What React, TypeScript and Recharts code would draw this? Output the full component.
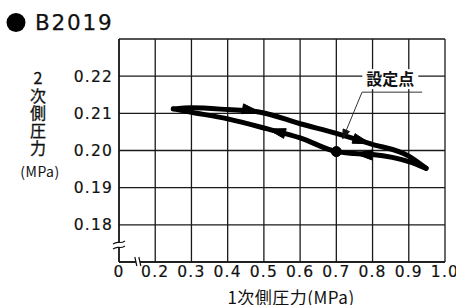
import React from 'react';
import { ComposedChart, Line, XAxis, YAxis, CartesianGrid, ReferenceDot } from 'recharts';

// Axis ticks (0.1 position is the broken-axis origin, labelled "0")
const xTicks = [0.1, 0.2, 0.3, 0.4, 0.5, 0.6, 0.7, 0.8, 0.9, 1.0];
const yTicks = [0.17, 0.18, 0.19, 0.2, 0.21, 0.22, 0.23];

// Rising inlet pressure branch (upper curve)
const risingInlet = [0.25, 0.3, 0.4, 0.49, 0.6, 0.7, 0.795, 0.9, 0.948];
const risingOutlet = [0.2112, 0.2115, 0.211, 0.2103, 0.2072, 0.2046, 0.2018, 0.1985, 0.1952];
const risingArrowsAt = [0.49, 0.795];

// Falling inlet pressure branch (lower curve)
const fallingInlet = [0.25, 0.3, 0.4, 0.51, 0.6, 0.7, 0.75, 0.8, 0.9, 0.948];
const fallingOutlet = [0.2112, 0.2103, 0.2085, 0.2058, 0.2034, 0.1997, 0.1992, 0.1989, 0.197, 0.1952];
const fallingArrowsAt = [0.51, 0.75];

// Set point and its leader
const setPoint = { x: 0.7, y: 0.1997 };
const leaderX = [0.718, 0.771, 0.937];
const leaderY = [0.2032, 0.2157, 0.2157];
const setPointLabel = '設定点';
const labelPos = { x: 0.849, y: 0.2192 };

const rising = risingInlet.map((x, i) => ({ x, y: risingOutlet[i] }));
const falling = fallingInlet.map((x, i) => ({ x, y: fallingOutlet[i] }));
const leader = leaderX.map((x, i) => ({ x, y: leaderY[i] }));

const INK = '#111';
const TICK_FONT = 'DejaVu Sans, sans-serif';
const JP_FONT = '"Noto Sans CJK JP", sans-serif';

const makeArrowDot = (arrowXs: number[], dir: number, len: number, half: number, fill: string) =>
  (props: any) => {
    const { cx, cy, index, points, payload } = props;
    if (!payload || !arrowXs.includes(payload.x) || !points || cx == null) {
      return <g key={`n-${index}`} />;
    }
    const p0 = points[Math.max(0, index - 1)];
    const p1 = points[Math.min(points.length - 1, index + 1)];
    let dx = (p1.x - p0.x) * dir;
    let dy = (p1.y - p0.y) * dir;
    const n = Math.hypot(dx, dy) || 1;
    dx /= n; dy /= n;
    const bx = cx - dx * len;
    const by = cy - dy * len;
    const px = -dy * half;
    const py = dx * half;
    const pts = `${cx},${cy} ${bx + px},${by + py} ${bx - px},${by - py}`;
    return <polygon key={`a-${index}`} points={pts} fill={fill} stroke={fill} strokeWidth={1} strokeLinejoin="round" />;
  };

const LabelShape = (props: any) => {
  const { cx, cy } = props;
  return (
    <g>
      <rect x={cx - 28} y={cy - 10} width={56} height={20} fill="#fff" />
      <text x={cx} y={cy + 6} textAnchor="middle" fontSize={16} fontWeight="bold" fontFamily={JP_FONT} fill={INK}>
        {setPointLabel}
      </text>
    </g>
  );
};

const YBreak = (props: any) => {
  const { cx, cy } = props;
  return (
    <g>
      <polygon points={`${cx - 6},${cy - 1} ${cx + 6},${cy - 4} ${cx + 6},${cy + 1} ${cx - 6},${cy + 4}`} fill="#fff" />
      <path d={`M${cx - 6},${cy - 1} q3,-2 6,-1.5 t6,-1.5`} stroke={INK} strokeWidth={1.2} fill="none" />
      <path d={`M${cx - 6},${cy + 4} q3,-2 6,-1.5 t6,-1.5`} stroke={INK} strokeWidth={1.2} fill="none" />
    </g>
  );
};

const XBreak = (props: any) => {
  const { cx, cy } = props;
  return (
    <g>
      <polygon points={`${cx - 3},${cy - 5} ${cx + 1},${cy - 5} ${cx + 3},${cy + 4} ${cx - 1},${cy + 4}`} fill="#fff" />
      <path d={`M${cx - 3},${cy - 5} L${cx - 1},${cy + 4}`} stroke={INK} strokeWidth={1.2} />
      <path d={`M${cx + 1},${cy - 5} L${cx + 3},${cy + 4}`} stroke={INK} strokeWidth={1.2} />
    </g>
  );
};

const yTitleChars = ['2', '次', '側', '圧', '力'];

const tickStyle = { fill: INK, fontSize: 15.5, fontFamily: TICK_FONT, letterSpacing: 1.2, stroke: INK, strokeWidth: 0.2 };

export default function App() {
  return (
    <div style={{ position: 'absolute', left: 0, top: 0, width: 456, height: 305, background: '#fff', overflow: 'hidden' }}>
      <ComposedChart width={456} height={305} margin={{ top: 39, right: 11, bottom: 0, left: 0 }}>
        <CartesianGrid stroke="#1a1a1a" strokeWidth={1.3} />
        <XAxis
          type="number"
          dataKey="x"
          domain={[0.1, 1.0]}
          ticks={xTicks}
          allowDataOverflow
          height={43}
          tickLine={false}
          tickSize={3}
          tickMargin={1}
          axisLine={{ stroke: INK, strokeWidth: 1.4 }}
          tickFormatter={(v: number) => (v < 0.15 ? '0' : v.toFixed(1))}
          tick={tickStyle}
          interval={0}
        />
        <YAxis
          type="number"
          dataKey="y"
          domain={[0.17, 0.23]}
          ticks={yTicks}
          allowDataOverflow
          width={119}
          tickLine={false}
          tickSize={4}
          tickMargin={2}
          axisLine={{ stroke: INK, strokeWidth: 1.4 }}
          tickFormatter={(v: number) => (v < 0.175 || v > 0.225 ? '' : v.toFixed(2))}
          tick={tickStyle}
          interval={0}
        />
        <Line
          data={rising}
          dataKey="y"
          type="monotone"
          stroke="#000"
          strokeWidth={5}
          strokeLinecap="round"
          strokeLinejoin="round"
          dot={makeArrowDot(risingArrowsAt, 1, 18, 5, '#000')}
          activeDot={false}
          isAnimationActive={false}
        />
        <Line
          data={falling}
          dataKey="y"
          type="monotone"
          stroke="#000"
          strokeWidth={5}
          strokeLinecap="round"
          strokeLinejoin="round"
          dot={makeArrowDot(fallingArrowsAt, -1, 18, 5, '#000')}
          activeDot={false}
          isAnimationActive={false}
        />
        <Line
          data={leader}
          dataKey="y"
          type="linear"
          stroke="#333"
          strokeWidth={1}
          dot={makeArrowDot([leaderX[0]], -1, 9, 3.5, '#111')}
          activeDot={false}
          isAnimationActive={false}
        />
        <ReferenceDot x={setPoint.x} y={setPoint.y} r={5} fill="#000" stroke="#000" />
        <ReferenceDot x={labelPos.x} y={labelPos.y} r={1} shape={LabelShape} />
        <ReferenceDot x={0.1} y={0.1746} r={1} shape={YBreak} />
        <ReferenceDot x={0.152} y={0.17} r={1} shape={XBreak} />
      </ComposedChart>
      <svg width={456} height={305} style={{ position: 'absolute', left: 0, top: 0, pointerEvents: 'none' }}>
        <circle cx={16} cy={22.5} r={9.5} fill="#000" />
        <text x={35} y={30} fontSize={21.5} fontFamily={TICK_FONT} letterSpacing={1.8} stroke={INK} strokeWidth={0.25} fill={INK}>B2019</text>
        <text x={38} fontSize={16} fontFamily={JP_FONT} textAnchor="middle" fill={INK} stroke={INK} strokeWidth={0.3}>
          {yTitleChars.map((c, i) => (
            <tspan key={i} x={38} y={84 + i * 17.5}>{c}</tspan>
          ))}
        </text>
        <text x={40} y={177} fontSize={14} fontFamily={JP_FONT} textAnchor="middle" letterSpacing={0.5} fill={INK}>(MPa)</text>
        <text x={291} y={304} fontSize={17} fontFamily={JP_FONT} textAnchor="middle" letterSpacing={0.5} fill={INK}>1次側圧力(MPa)</text>
      </svg>
    </div>
  );
}
